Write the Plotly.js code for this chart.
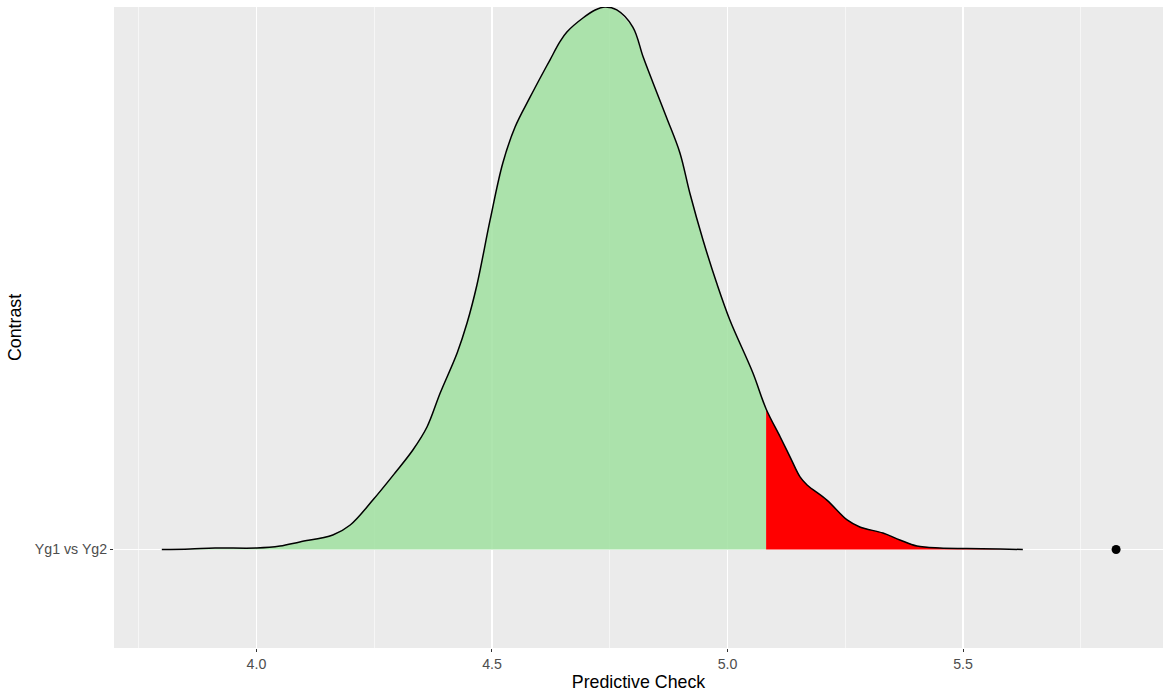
<!DOCTYPE html>
<html>
<head>
<meta charset="utf-8">
<script src="https://cdn.plot.ly/plotly-3.0.1.min.js"></script>
<style>html,body{margin:0;padding:0;background:#fff;}#chart{width:1163px;height:695px;}</style>
</head>
<body>
<div id="chart"></div>
<script>
// Density curve of the predictive check (x = value, height above the ridge baseline)
const densX = [3.799, 3.859, 3.912, 4.001, 4.050, 4.092, 4.162, 4.199, 4.247, 4.294, 4.332, 4.362, 4.390, 4.426, 4.447, 4.468, 4.496, 4.523, 4.549, 4.580, 4.608, 4.623, 4.644, 4.659, 4.693, 4.719, 4.740, 4.765, 4.799, 4.821, 4.842, 4.871, 4.899, 4.920, 4.948, 4.977, 5.005, 5.054, 5.082, 5.112, 5.133, 5.154, 5.169, 5.211, 5.254, 5.281, 5.330, 5.366, 5.402, 5.451, 5.508, 5.579, 5.627];
const densH = [0.000, 0.003, 0.009, 0.009, 0.021, 0.046, 0.088, 0.149, 0.301, 0.466, 0.606, 0.746, 0.953, 1.197, 1.379, 1.611, 2.007, 2.354, 2.573, 2.750, 2.902, 2.981, 3.091, 3.152, 3.237, 3.286, 3.304, 3.286, 3.182, 2.999, 2.841, 2.628, 2.415, 2.171, 1.885, 1.623, 1.398, 1.075, 0.856, 0.685, 0.563, 0.442, 0.393, 0.301, 0.180, 0.137, 0.100, 0.058, 0.021, 0.009, 0.006, 0.003, 0.000];
const tailCut = 5.082;          // start of the red upper tail
const observedValue = [5.825];  // observed statistic (black point)
const categories = ["Yg1 vs Yg2"];
const categoryPos = [1];
const xTicks = [4.0, 4.5, 5.0, 5.5];
const xTickText = ["4.0", "4.5", "5.0", "5.5"];
const xMinorTicks = [3.75, 4.25, 4.75, 5.25, 5.75];

const base = categoryPos[0];

function interpH(x) {
  for (let i = 0; i < densX.length - 1; i++) {
    if (x >= densX[i] && x <= densX[i + 1]) {
      const t = (x - densX[i]) / (densX[i + 1] - densX[i]);
      return densH[i] + t * (densH[i + 1] - densH[i]);
    }
  }
  return 0;
}
const cutH = interpH(tailCut);

// green body polygon
const gX = [], gY = [];
densX.forEach((x, i) => { if (x < tailCut) { gX.push(x); gY.push(base + densH[i]); } });
gX.push(tailCut); gY.push(base + cutH);
gX.push(tailCut); gY.push(base);
gX.push(densX[0]); gY.push(base);

// red tail polygon
const rX = [tailCut], rY = [base];
rX.push(tailCut); rY.push(base + cutH);
densX.forEach((x, i) => { if (x > tailCut) { rX.push(x); rY.push(base + densH[i]); } });
rX.push(densX[densX.length - 1]); rY.push(base);

const traces = [
  { x: gX, y: gY, type: 'scatter', mode: 'lines', fill: 'toself',
    fillcolor: 'rgba(160,225,160,0.85)', line: { width: 0 }, hoverinfo: 'skip', showlegend: false },
  { x: rX, y: rY, type: 'scatter', mode: 'lines', fill: 'toself',
    fillcolor: '#FF0000', line: { width: 0 }, hoverinfo: 'skip', showlegend: false },
  { x: densX, y: densH.map(h => base + h), type: 'scatter', mode: 'lines',
    line: { color: '#000000', width: 1.5, shape: 'spline', smoothing: 1 }, hoverinfo: 'skip', showlegend: false },
  { x: observedValue, y: categoryPos, type: 'scatter', mode: 'markers',
    marker: { color: '#000000', size: 9 }, hoverinfo: 'skip', showlegend: false }
];

const layout = {
  width: 1163, height: 695,
  margin: { l: 114, r: 0, t: 7, b: 47, pad: 0 },
  paper_bgcolor: '#FFFFFF',
  plot_bgcolor: '#EBEBEB',
  font: { family: 'Liberation Sans, Arial, sans-serif', color: '#4D4D4D', size: 14.2 },
  showlegend: false,
  xaxis: {
    range: [3.6975, 5.9246],
    tickmode: 'array', tickvals: xTicks, ticktext: xTickText,
    showgrid: true, gridcolor: '#FFFFFF', gridwidth: 1.1,
    minor: { tickmode: 'array', tickvals: xMinorTicks, showgrid: true, gridcolor: '#FFFFFF', gridwidth: 0.55, ticks: '' },
    ticks: 'outside', ticklen: 3, tickwidth: 1, tickcolor: '#333333',
    tickfont: { color: '#4D4D4D', size: 14.2 },
    zeroline: false, showline: false,
    title: { text: 'Predictive Check', font: { color: '#000000', size: 17.8 }, standoff: 4 }
  },
  yaxis: {
    range: [0.4, 4.304],
    tickmode: 'array', tickvals: categoryPos, ticktext: categories,
    showgrid: true, gridcolor: '#FFFFFF', gridwidth: 1.1,
    ticks: 'outside', ticklen: 3, tickwidth: 1, tickcolor: '#333333',
    tickfont: { color: '#4D4D4D', size: 14.2 },
    zeroline: false, showline: false,
    title: { text: 'Contrast', font: { color: '#000000', size: 17.8 }, standoff: 8 }
  }
};

Plotly.newPlot('chart', traces, layout, { staticPlot: true, displayModeBar: false });
</script>
</body>
</html>
